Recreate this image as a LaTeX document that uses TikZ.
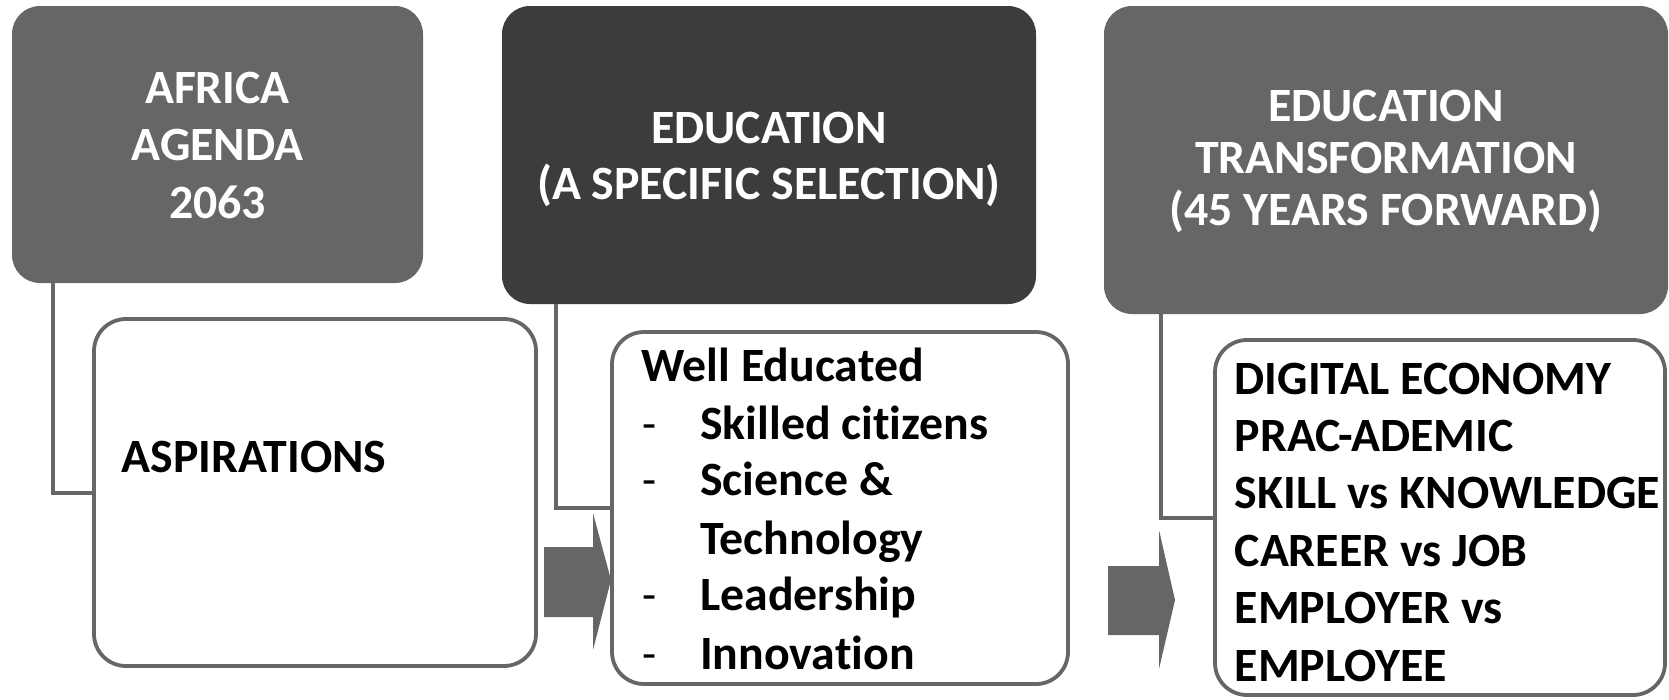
\documentclass[tikz,border=0pt]{standalone}
\usepackage{fontspec}
\setmainfont{Carlito}[Ligatures=NoCommon]
\usetikzlibrary{calc}
\definecolor{gA}{RGB}{102,102,102}
\definecolor{gB}{RGB}{60,61,58}
\definecolor{gL}{RGB}{102,102,102}
\tikzset{
  darkbox/.style={rectangle, rounded corners=28pt, inner sep=0pt, draw=none},
  whitebox/.style={rectangle, rounded corners=32pt, inner sep=0pt, draw=gL, line width=3.8pt, fill=white},
  conn/.style={draw=gL, line width=4pt},
  hd/.style={anchor=base, inner sep=0pt, text=white, font=\fontsize{47.8}{58}\selectfont\bfseries},
  bd/.style={anchor=base west, inner sep=0pt, text=black, font=\fontsize{47.8}{58}\selectfont\bfseries},
  dsh/.style={anchor=base west, inner sep=0pt, text=black, font=\fontsize{46}{58}\selectfont},
  blockarrow/.style={fill=gA, draw=none}
}
\begin{document}
\begin{tikzpicture}[x=1pt,y=-1pt]
\useasboundingbox[fill=white] (0,0) rectangle (1669,699);
% dark header boxes
\node[darkbox, fill=gA, minimum width=411, minimum height=277] (d1) at (217.5,144.5) {};
\node[darkbox, fill=gB, minimum width=534, minimum height=298] (d2) at (769,155) {};
\node[darkbox, fill=gA, minimum width=564, minimum height=308] (d3) at (1386,160) {};
% white boxes
\node[whitebox, minimum width=442, minimum height=347] (w1) at (315,492.5) {};
\node[whitebox, minimum width=456, minimum height=352] (w2) at (840,508) {};
\node[whitebox, minimum width=450, minimum height=355] (w3) at (1440,517.5) {};
% connectors
\draw[conn] ($(d1.south west)+(41,0)$) |- (w1.west);
\draw[conn] ($(d2.south west)+(54,0)$) |- (w2.west);
\draw[conn] ($(d3.south west)+(57,0)$) |- (w3.west);
% block arrows
\fill[blockarrow] (544,547) -- (593,547) -- (593,513) -- (611,580) -- (593,650) -- (593,617) -- (544,617) -- cycle;
\fill[blockarrow] (1108,566) -- (1159,566) -- (1159,530) -- (1175,600) -- (1159,669) -- (1159,635) -- (1108,635) -- cycle;
% header texts
\node[hd] (h1a) at (217.5,103) {AFRICA};
\node[hd] (h1b) at (217.5,160.5) {AGENDA};
\node[hd] (h1c) at (217.5,218) {2063};
\node[hd] (h2a) at (769,143.5) {EDUCATION};
\node[hd] (h2b) at (769,199) {(A SPECIFIC SELECTION)};
\node[hd] (h3a) at (1386,121) {EDUCATION};
\node[hd] (h3b) at (1386,173) {TRANSFORMATION};
\node[hd] (h3c) at (1386,225) {(45 YEARS FORWARD)};
% white box texts
\node[bd] (a1) at (121.5,472.5) {ASPIRATIONS};
\node[bd] (b0) at (641,381) {Well Educated};
\node[dsh] (bd1) at (642,439) {-};
\node[bd] (b1) at (700,439) {Skilled citizens};
\node[dsh] (bd2) at (642,495) {-};
\node[bd] (b2) at (700,495) {Science \&};
\node[bd] (b3) at (700,554) {Technology};
\node[dsh] (bd4) at (642,610) {-};
\node[bd] (b4) at (700,610) {Leadership};
\node[dsh] (bd5) at (642,669) {-};
\node[bd] (b5) at (700,669) {Innovation};
\node[bd] (c1) at (1234.5,394.5) {DIGITAL ECONOMY};
\node[bd] (c2) at (1234.5,451) {PRAC-ADEMIC};
\node[bd] (c3) at (1234.5,508.5) {SKILL vs KNOWLEDGE};
\node[bd] (c4) at (1234.5,566) {CAREER vs JOB};
\node[bd] (c5) at (1234.5,623) {EMPLOYER vs};
\node[bd] (c6) at (1234.5,681) {EMPLOYEE};
\end{tikzpicture}
\end{document}
